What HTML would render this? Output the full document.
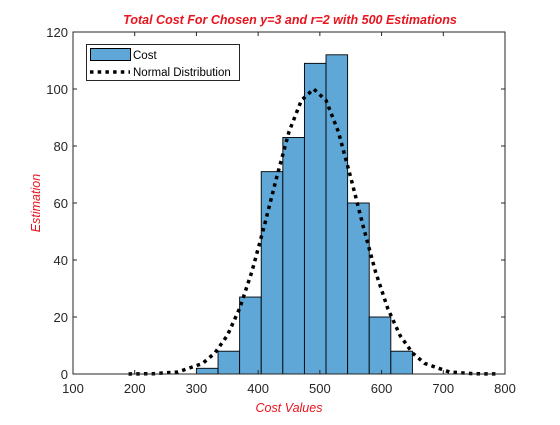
<!DOCTYPE html>
<html><head><meta charset="utf-8"><style>
body{margin:0;background:#fff;width:560px;height:420px;overflow:hidden}
svg{font-family:"Liberation Sans",Arial,sans-serif}
</style></head><body>
<svg id="chart" width="560" height="420">
<rect width="560" height="420" fill="#fff"/>
<rect x="73" y="32" width="432" height="342" fill="#fff"/>
<g id="bars"></g>
<g id="curve"></g>
<g id="axes"></g>
<text x="290" y="24" text-anchor="middle" fill="#e8141e" font-size="12.5" font-weight="bold" font-style="italic">Total Cost For Chosen y=3 and r=2 with 500 Estimations</text>
<text x="289" y="412" text-anchor="middle" fill="#e8141e" font-size="12.5" font-style="italic">Cost Values</text>
<text x="40" y="203" text-anchor="middle" fill="#e8141e" font-size="12.5" font-style="italic" transform="rotate(-90 40 203)">Estimation</text>
<g>
<rect x="86.5" y="44.5" width="153" height="36" fill="#fff" stroke="#262626" stroke-width="1"/>
<rect x="90.5" y="48.5" width="40" height="12" fill="#5ea7d6" stroke="#000"/>
<text x="133" y="59" font-size="11.5" fill="#000">Cost</text>
<line x1="90" y1="72" x2="130" y2="72" stroke="#000" stroke-width="3.5" stroke-dasharray="3.5 4.2"/>
<text x="133" y="76" font-size="11.5" fill="#000">Normal Distribution</text>
</g>
</svg>
<script>
const binEdges=[300,335,370,405,440,475,510,545,580,615];
const binWidth=35;
const counts=[2,8,27,71,83,109,112,60,20,8];
const curveX=[190,230,270,310,330,350,370,390,410,430,450,470,490,510,530,550,570,590,610,630,650,670,710,750,790];
const curveY=[0.01,0.1,0.7,3.7,7.4,13.5,23,36,52,69,85,96,100,96,85,69,52,36,23,13.5,7.4,3.7,0.7,0.1,0.01];
const xTicks=[100,200,300,400,500,600,700,800];
const yTicks=[0,20,40,60,80,100,120];
const NS='http://www.w3.org/2000/svg';
const L=73,R=505,T=32,B=374;
const xs=v=>L+(v-100)/700*(R-L);
const ys=v=>B-v/120*(B-T);
function mk(t,a,p){const e=document.createElementNS(NS,t);for(const k in a)e.setAttribute(k,a[k]);p.appendChild(e);return e;}
const bars=document.getElementById('bars');
counts.forEach((c,i)=>{
 const x0=xs(binEdges[i]),x1=xs(binEdges[i]+binWidth);
 const r=mk('rect',{x:x0,y:ys(c),width:x1-x0,height:ys(0)-ys(c),fill:'#5ea7d6',stroke:'#000','stroke-width':0.9},bars);
 
 
});
const cg=document.getElementById('curve');
const pl=mk('polyline',{points:curveX.map((x,i)=>xs(x)+','+ys(curveY[i])).join(' '),fill:'none',stroke:'#000','stroke-width':3.5,'stroke-dasharray':'3.5 4.2'},cg);


const ax=document.getElementById('axes');
mk('rect',{x:L,y:T,width:R-L,height:B-T,fill:'none',stroke:'#262626','stroke-width':1},ax);
xTicks.forEach(v=>{
 const x=xs(v);
 mk('line',{x1:x,y1:B,x2:x,y2:B-4,stroke:'#262626'},ax);
 mk('line',{x1:x,y1:T,x2:x,y2:T+4,stroke:'#262626'},ax);
 const t=mk('text',{x:x,y:B+19,'text-anchor':'middle','font-size':13,fill:'#262626'},ax);
 t.textContent=v;
 
 
});
yTicks.forEach(v=>{
 const y=ys(v);
 mk('line',{x1:L,y1:y,x2:L+4,y2:y,stroke:'#262626'},ax);
 mk('line',{x1:R,y1:y,x2:R-4,y2:y,stroke:'#262626'},ax);
 const t=mk('text',{x:L-5,y:y+5,'text-anchor':'end','font-size':13,fill:'#262626'},ax);
 t.textContent=v;
 
 
});
</script>
</body></html>
